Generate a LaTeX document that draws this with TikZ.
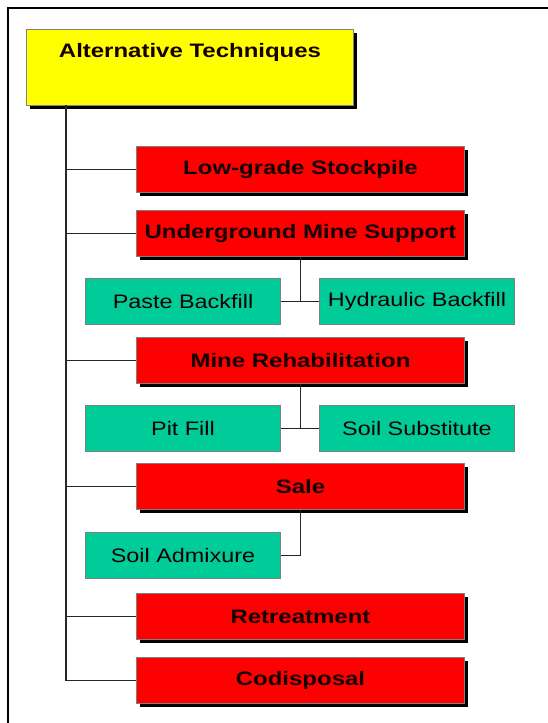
\documentclass[tikz,border=0pt]{standalone}
\usepackage{fontspec}
\newfontfamily\boxfont[FakeStretch=1.2]{Liberation Sans}
\newfontfamily\boldboxfont[FakeStretch=1.23]{Liberation Sans}
\usetikzlibrary{shadows}
\definecolor{redfill}{RGB}{255,0,0}
\definecolor{greenfill}{RGB}{0,204,153}
\definecolor{yellowfill}{RGB}{255,255,0}
\definecolor{boxedge}{RGB}{128,128,128}
\definecolor{textdark}{RGB}{20,0,0}
\tikzset{
  basebox/.style={rectangle, draw=boxedge, line width=1pt, inner sep=0pt, anchor=north west,
    font=\boxfont\fontsize{19.5}{22}\selectfont, text=textdark},
  shadowed/.style={drop shadow={shadow xshift=3.5pt, shadow yshift=-3.5pt, fill=black, opacity=1}},
  redbox/.style={basebox, shadowed, fill=redfill, minimum width=328pt, minimum height=46pt, font=\boldboxfont\bfseries\fontsize{19.5}{22}\selectfont},
  greenbox/.style={basebox, fill=greenfill, minimum width=195pt, minimum height=46pt},
  yellowbox/.style={basebox, shadowed, fill=yellowfill, minimum width=327pt, minimum height=76pt,
    text height=14pt, text depth=34pt, font=\boldboxfont\bfseries\fontsize{19.5}{22}\selectfont},
  conn/.style={draw=black!85, line width=1.8pt},
  frameline/.style={draw=black, line width=2.5pt}
}
\begin{document}
\begin{tikzpicture}[x=1pt,y=-1pt]
\useasboundingbox (0,0) rectangle (548,723);
\draw[frameline] (8,723) -- (8,8) -- (548,8);

\node[yellowbox] (top) at (26,29) {Alternative Techniques};

\node[redbox] (low) at (136,146) {Low-grade Stockpile};
\node[redbox] (ug) at (136,210) {Underground Mine Support};
\node[greenbox] (paste) at (85,278) {Paste Backfill};
\node[greenbox] (hydr) at (319,278) {Hydraulic Backfill};
\node[redbox] (rehab) at (136,337) {Mine Rehabilitation};
\node[greenbox] (pit) at (85,405) {Pit Fill};
\node[greenbox] (soilsub) at (319,405) {Soil Substitute};
\node[redbox] (sale) at (136,463) {Sale};
\node[greenbox] (adm) at (85,532) {Soil Admixure};
\node[redbox] (retreat) at (136,593) {Retreatment};
\node[redbox] (codis) at (136,657) {Codisposal};

\coordinate (tk) at (66,105);
\draw[conn] (tk) |- (codis.west);
\foreach \n in {low,ug,rehab,sale,retreat}{
  \draw[conn] (\n.west -| tk) -- (\n.west);
}
\draw[conn] (paste.east) -- (hydr.west);
\draw[conn] (ug.south) -- (ug.south |- paste.east);
\draw[conn] (pit.east) -- (soilsub.west);
\draw[conn] (rehab.south) -- (rehab.south |- pit.east);
\draw[conn] (sale.south) |- (adm.east);
\end{tikzpicture}
\end{document}
